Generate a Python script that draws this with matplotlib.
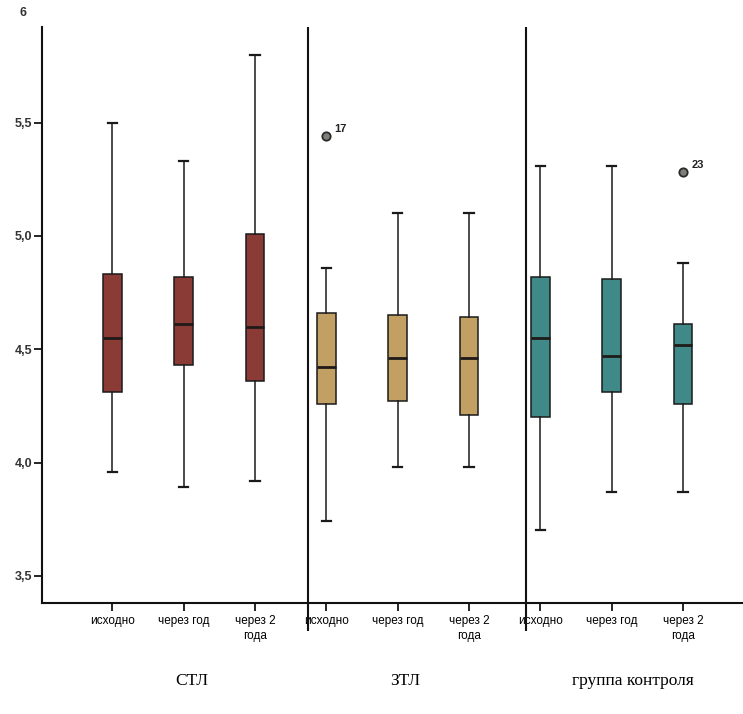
import matplotlib
matplotlib.use('Agg')
import matplotlib.pyplot as plt
import matplotlib.transforms as mtransforms

# Daten
labels = ['исходно', 'через год', 'через 2\nгода'] * 3
groups = ['СТЛ', 'ЗТЛ', 'группа контроля']
whislo = [3.96, 3.89, 3.92, 3.74, 3.98, 3.98, 3.70, 3.87, 3.87]
q1 = [4.31, 4.43, 4.36, 4.26, 4.27, 4.21, 4.20, 4.31, 4.26]
med = [4.55, 4.61, 4.60, 4.42, 4.46, 4.46, 4.55, 4.47, 4.52]
q3 = [4.83, 4.82, 5.01, 4.66, 4.65, 4.64, 4.82, 4.81, 4.61]
whishi = [5.50, 5.33, 5.80, 4.86, 5.10, 5.10, 5.31, 5.31, 4.88]
outliers = [[], [], [], [5.44], [], [], [], [], [5.28]]
outlier_ids = {3: '17', 8: '23'}
colors = ['#8b3b36'] * 3 + ['#c2a063'] * 3 + ['#3f8a89'] * 3

stats = []
for i in range(9):
    stats.append({'whislo': whislo[i], 'q1': q1[i], 'med': med[i], 'q3': q3[i],
                  'whishi': whishi[i], 'fliers': outliers[i]})

positions = list(range(1, 10))

fig = plt.figure(figsize=(7.43, 7.14), dpi=100)
ax = fig.add_axes([0.057, 0.1555, 0.943, 0.806])

bp = ax.bxp(stats, positions=positions, widths=0.26, patch_artist=True,
            showfliers=True,
            boxprops=dict(edgecolor='#1a1a1a', linewidth=1.1),
            medianprops=dict(color='#1f1a18', linewidth=2.0),
            whiskerprops=dict(color='#1a1a1a', linewidth=1.1),
            capprops=dict(color='#1a1a1a', linewidth=1.6),
            capwidths=0.13,
            flierprops=dict(marker='o', markersize=6, markerfacecolor='#7d8079',
                            markeredgecolor='#2a2a2a', markeredgewidth=1.3))
for patch, c in zip(bp['boxes'], colors):
    patch.set_facecolor(c)

# Nummern der Ausreisser
for idx, txt in outlier_ids.items():
    ax.annotate(txt, (positions[idx], outliers[idx][0]), xytext=(6, 3),
                textcoords='offset points', fontsize=8, fontweight='bold',
                color='#222222', family='Liberation Sans')

ax.set_xlim(0.02, 9.84)
ax.set_ylim(3.38, 5.92)

# Trennlinien zwischen den Gruppen
for xs in [3.75, 6.8]:
    ax.vlines(xs, 3.255, 5.92, color='#111111', linewidth=1.5, clip_on=False)

ax.set_xticks(positions)
ax.set_xticklabels(labels, fontsize=8.5, family='Liberation Sans', linespacing=1.25)
ax.set_yticks([3.5, 4.0, 4.5, 5.0, 5.5])
ax.set_yticklabels(['3,5', '4,0', '4,5', '5,0', '5,5'], fontsize=9,
                   family='Liberation Sans', fontweight='bold', color='#333333')
ax.tick_params(axis='x', direction='out', length=6, width=1.2, pad=3)
ax.tick_params(axis='y', direction='out', length=6, width=1.2, pad=1)

# "6" oben an der Achse
trans = mtransforms.blended_transform_factory(ax.transAxes, ax.transData)
ax.text(-0.028, 5.985, '6', transform=trans, ha='center', va='center', fontsize=9,
        fontweight='bold', family='Liberation Sans', color='#333333', clip_on=False)

for s in ['top', 'right']:
    ax.spines[s].set_visible(False)
for s in ['left', 'bottom']:
    ax.spines[s].set_linewidth(1.5)
    ax.spines[s].set_color('#111111')

# Gruppenbeschriftungen
for gx, g in zip([2.12, 5.1, 8.3], groups):
    ax.text(gx, -0.135, g, transform=mtransforms.blended_transform_factory(ax.transData, ax.transAxes),
            ha='center', va='center', fontsize=12.5, family='Liberation Serif')

plt.savefig('out.png', dpi=100)
